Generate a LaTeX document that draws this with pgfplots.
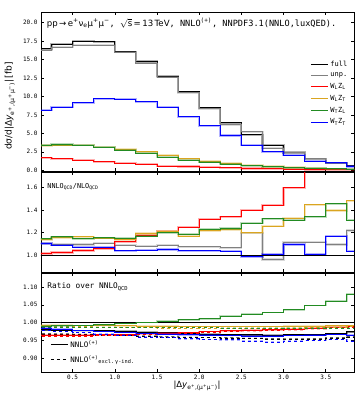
\documentclass[border=0pt]{standalone}
\usepackage{pgfplots}
\pgfplotsset{compat=1.18}
\usepackage{pgfplotstable}
\usepackage{fontspec}
\setmainfont{DejaVu Sans}
\setmonofont{DejaVu Sans Mono}

\definecolor{cfull}{RGB}{0,0,0}
\definecolor{cunp}{RGB}{128,128,128}
\definecolor{cLL}{RGB}{255,0,0}
\definecolor{cLT}{RGB}{218,165,32}
\definecolor{cTL}{RGB}{34,139,34}
\definecolor{cTT}{RGB}{0,0,255}

% differential cross section [fb], bins of width 0.25 (left edges)
\pgfplotstableread{
x    full   unp    LL    LT    TL    TT
0.00 16.45  16.25  1.70  3.35  3.42  8.15
0.25 17.10  16.70  1.57  3.38  3.50  8.55
0.50 17.50  16.95  1.35  3.40  3.38  9.15
0.75 17.40  16.95  1.17  3.15  3.15  9.70
1.00 16.05  16.00  0.95  2.85  2.75  9.65
1.25 14.75  14.50  0.80  2.50  2.30  9.28
1.50 12.75  12.60  0.58  2.05  1.80  8.55
1.75 10.65  10.50  0.50  1.55  1.35  7.25
2.00  8.45   8.35  0.40  1.20  1.12  6.05
2.25  6.44   6.20  0.35  0.95  0.85  4.70
2.50  4.80   5.20  0.25  0.68  0.63  3.38
2.75  3.40   3.00  0.20  0.50  0.45  2.52
3.00  2.40   2.35  0.15  0.38  0.36  2.03
3.25  1.58   1.55  0.10  0.30  0.27  1.22
3.50  1.00   0.95  0.08  0.22  0.20  1.00
3.75  0.60   0.55  0.05  0.17  0.15  0.50
4.00  0.60   0.55  0.05  0.17  0.15  0.50
}\xsec

% NNLO_QCD / NLO_QCD
\pgfplotstableread{
x    full  unp    LL     LT     TL     TT
0.00 1.0   1.104  1.015  1.140  1.145  1.104
0.25 1.0   1.095  1.024  1.155  1.163  1.090
0.50 1.0   1.095  1.042  1.165  1.145  1.070
0.75 1.0   1.107  1.060  1.150  1.155  1.072
1.00 1.0   1.090  1.120  1.140  1.152  1.040
1.25 1.0   1.080  1.175  1.193  1.170  1.045
1.50 1.0   1.088  1.210  1.210  1.200  1.050
1.75 1.0   1.075  1.250  1.170  1.187  1.040
2.00 1.0   1.075  1.320  1.220  1.230  1.040
2.25 1.0   1.065  1.340  1.225  1.237  1.037
2.50 1.0   1.200  1.400  1.200  1.285  0.985
2.75 1.0   0.962  1.445  1.258  1.323  1.010
3.00 1.0   1.115  1.600  1.330  1.310  1.095
3.25 1.0   1.115  1.900  1.448  1.340  1.005
3.50 1.0   1.095  2.000  1.397  1.457  1.170
3.75 1.0   1.220  2.100  1.483  1.310  1.035
4.00 1.0   1.220  2.100  1.483  1.310  1.035
}\kfac

% ratio over NNLO_QCD: suffix s = NNLO(+), d = excl. photon-induced
\pgfplotstableread{
x    fulls fulld unps  unpd  LLs   LLd   LTs   LTd   TLs   TLd   TTs   TTd
0.00 0.980 0.968 0.979 0.970 0.965 0.963 0.993 0.990 0.990 0.988 0.985 0.978
0.25 0.979 0.967 0.978 0.969 0.965 0.963 0.993 0.990 0.991 0.988 0.982 0.975
0.50 0.978 0.966 0.977 0.968 0.965 0.963 0.992 0.989 0.992 0.987 0.978 0.972
0.75 0.977 0.965 0.976 0.967 0.966 0.964 0.992 0.988 0.994 0.987 0.975 0.968
1.00 0.976 0.964 0.975 0.965 0.967 0.965 0.991 0.987 0.998 0.986 0.972 0.965
1.25 0.974 0.962 0.973 0.963 0.969 0.967 0.990 0.986 1.001 0.986 0.970 0.960
1.50 0.972 0.960 0.971 0.961 0.971 0.969 0.990 0.985 1.004 0.986 0.968 0.958
1.75 0.970 0.959 0.969 0.960 0.973 0.971 0.989 0.984 1.008 0.986 0.966 0.955
2.00 0.968 0.958 0.967 0.959 0.975 0.973 0.989 0.984 1.011 0.986 0.965 0.953
2.25 0.967 0.957 0.966 0.958 0.977 0.975 0.989 0.984 1.018 0.985 0.964 0.952
2.50 0.966 0.956 0.965 0.957 0.979 0.977 0.989 0.984 1.024 0.985 0.963 0.948
2.75 0.965 0.954 0.964 0.956 0.980 0.978 0.989 0.984 1.028 0.985 0.962 0.946
3.00 0.966 0.953 0.965 0.955 0.982 0.980 0.990 0.985 1.036 0.985 0.964 0.948
3.25 0.967 0.954 0.966 0.956 0.985 0.983 0.990 0.986 1.048 0.985 0.965 0.950
3.50 0.970 0.957 0.969 0.958 0.988 0.986 0.991 0.988 1.060 0.985 0.967 0.953
3.75 0.975 0.960 0.973 0.961 0.990 0.988 0.992 0.990 1.080 0.985 0.965 0.948
4.00 0.975 0.960 0.973 0.961 0.990 0.988 0.992 0.990 1.080 0.985 0.965 0.948
}\ratio

\pgfplotsset{
  panel/.style={
    scale only axis, width=313pt,
    xmin=0.125, xmax=3.835,
    xtick={0.5,1.0,...,3.5},
    tick align=inside, xtick pos=both, ytick pos=both,
    major tick length=3pt,
    every tick/.style={black, line width=0.5pt},
    axis line style={line width=0.8pt},
    tick label style={font=\ttfamily\fontsize{6}{7}\selectfont},
    /pgf/number format/assume math mode=true,
    /pgf/number format/.cd, fixed, fixed zerofill, precision=1,
    /pgfplots/.cd,
    clip=true,
    every axis plot/.append style={const plot mark left, line width=0.9pt, no marks},
  },
  % light scale-variation band drawn under each histogram line
  bandwidth/.initial=2.2pt,
  band/.style={#1, opacity=0.3, line width=\pgfkeysvalueof{/pgfplots/bandwidth}, forget plot},
}

% histogram line with its light band underneath
\newcommand\hist[4][]{%
  \addplot[band=#2, #1] table[x=x,y=#4]{#3};
  \addplot[#2, #1] table[x=x,y=#4]{#3};
}

\begin{document}
\begin{tikzpicture}[x=1pt,y=1pt]
\path[use as bounding box] (0,0) rectangle (356,394);

% top panel: distributions
\begin{axis}[panel, at={(41pt,223pt)}, anchor=south west, height=159pt,
  ymin=-0.1, ymax=21.45, ytick={0,2.5,...,20}, xticklabels={},
  legend style={at={(rel axis cs:0.995,0.72)}, anchor=north east, draw=none, fill=none,
    font=\ttfamily\fontsize{7}{8}\selectfont, row sep=1.2pt, cells={anchor=west}},
  legend image post style={line width=1.1pt, opacity=1},
  legend cell align=left]
\hist{cfull}{\xsec}{full}
\hist{cunp}{\xsec}{unp}
\hist{cLL}{\xsec}{LL}
\hist{cLT}{\xsec}{LT}
\hist{cTL}{\xsec}{TL}
\hist{cTT}{\xsec}{TT}
\legend{full,unp.,W\textsubscript{L}Z\textsubscript{L},W\textsubscript{L}Z\textsubscript{T},W\textsubscript{T}Z\textsubscript{L},W\textsubscript{T}Z\textsubscript{T}}
\node[anchor=west, inner sep=0pt] at (rel axis cs:0.018,0.93)
  {\fontsize{8.6}{10}\selectfont pp\,→\,e\textsuperscript{+}ν\textsubscript{e}μ\textsuperscript{+}μ\textsuperscript{−}\ttfamily, \rmfamily$\sqrt{\hbox{s}}$\,=\,13\,TeV\ttfamily, NNLO\textsuperscript{(+)}, NNPDF3.1(NNLO,luxQED).};
\end{axis}

% middle panel: NNLO/NLO
\begin{axis}[panel, at={(41pt,122pt)}, anchor=south west, height=100pt,
  ymin=0.85, ymax=1.74, ytick={1.0,1.2,1.4,1.6}, xticklabels={}]
\hist{cunp}{\kfac}{unp}
\hist{cLL}{\kfac}{LL}
\hist{cLT}{\kfac}{LT}
\hist{cTL}{\kfac}{TL}
\hist{cTT}{\kfac}{TT}
\addplot[cfull] table[x=x,y=full]{\kfac};
\node[anchor=west, inner sep=0pt] at (rel axis cs:0.02,0.85)
  {\ttfamily\fontsize{6.8}{8}\selectfont NNLO\textsubscript{QCD}/NLO\textsubscript{QCD}};
\end{axis}

% bottom panel: ratio over NNLO_QCD
\begin{axis}[panel, at={(41pt,22pt)}, anchor=south west, height=99pt,
  bandwidth=1.6pt,
  ymin=0.862, ymax=1.139, ytick={0.90,0.95,1.00,1.05,1.10},
  yticklabel style={/pgf/number format/precision=2},
  xticklabel style={/pgf/number format/precision=1},
  every axis plot/.append style={line width=0.8pt},
  legend style={at={(rel axis cs:0.02,0.36)}, anchor=north west, draw=none, fill=none,
    font=\ttfamily\fontsize{7.5}{9}\selectfont, row sep=2pt, cells={anchor=west}},
  legend cell align=left]
\addlegendimage{black, line width=0.9pt}
\addlegendimage{black, dashed, line width=0.9pt}
\legend{NNLO\textsuperscript{(+)},NNLO\textsuperscript{(+)}\textsubscript{excl.\,γ-ind.}}
\draw[black, line width=0.6pt] (axis cs:0,1) -- (axis cs:4,1);
\hist{cunp}{\ratio}{unps}
\hist[dashed]{cunp}{\ratio}{unpd}
\hist{cfull}{\ratio}{fulls}
\hist[dashed]{cfull}{\ratio}{fulld}
\hist{cLL}{\ratio}{LLs}
\hist[dashed]{cLL}{\ratio}{LLd}
\hist{cLT}{\ratio}{LTs}
\hist[dashed]{cLT}{\ratio}{LTd}
\hist{cTL}{\ratio}{TLs}
\hist[dashed]{cTL}{\ratio}{TLd}
\hist{cTT}{\ratio}{TTs}
\hist[dashed]{cTT}{\ratio}{TTd}
\node[anchor=west, inner sep=0pt] at (rel axis cs:0.02,0.86)
  {\ttfamily\fontsize{7.8}{9}\selectfont Ratio over NNLO\textsubscript{QCD}};
\end{axis}

% axis titles
\node[rotate=90, font=\fontsize{9}{10}\selectfont] at (10,288)
  {dσ/d|Δ\textit{y}\textsubscript{e\textsuperscript{+},(μ\textsuperscript{+}μ\textsuperscript{−})}|\,[fb]};
\node[font=\fontsize{8.5}{10}\selectfont] at (197,8)
  {|Δ\textit{y}\textsubscript{e\textsuperscript{+},(μ\textsuperscript{+}μ\textsuperscript{−})}|};
\end{tikzpicture}
\end{document}
